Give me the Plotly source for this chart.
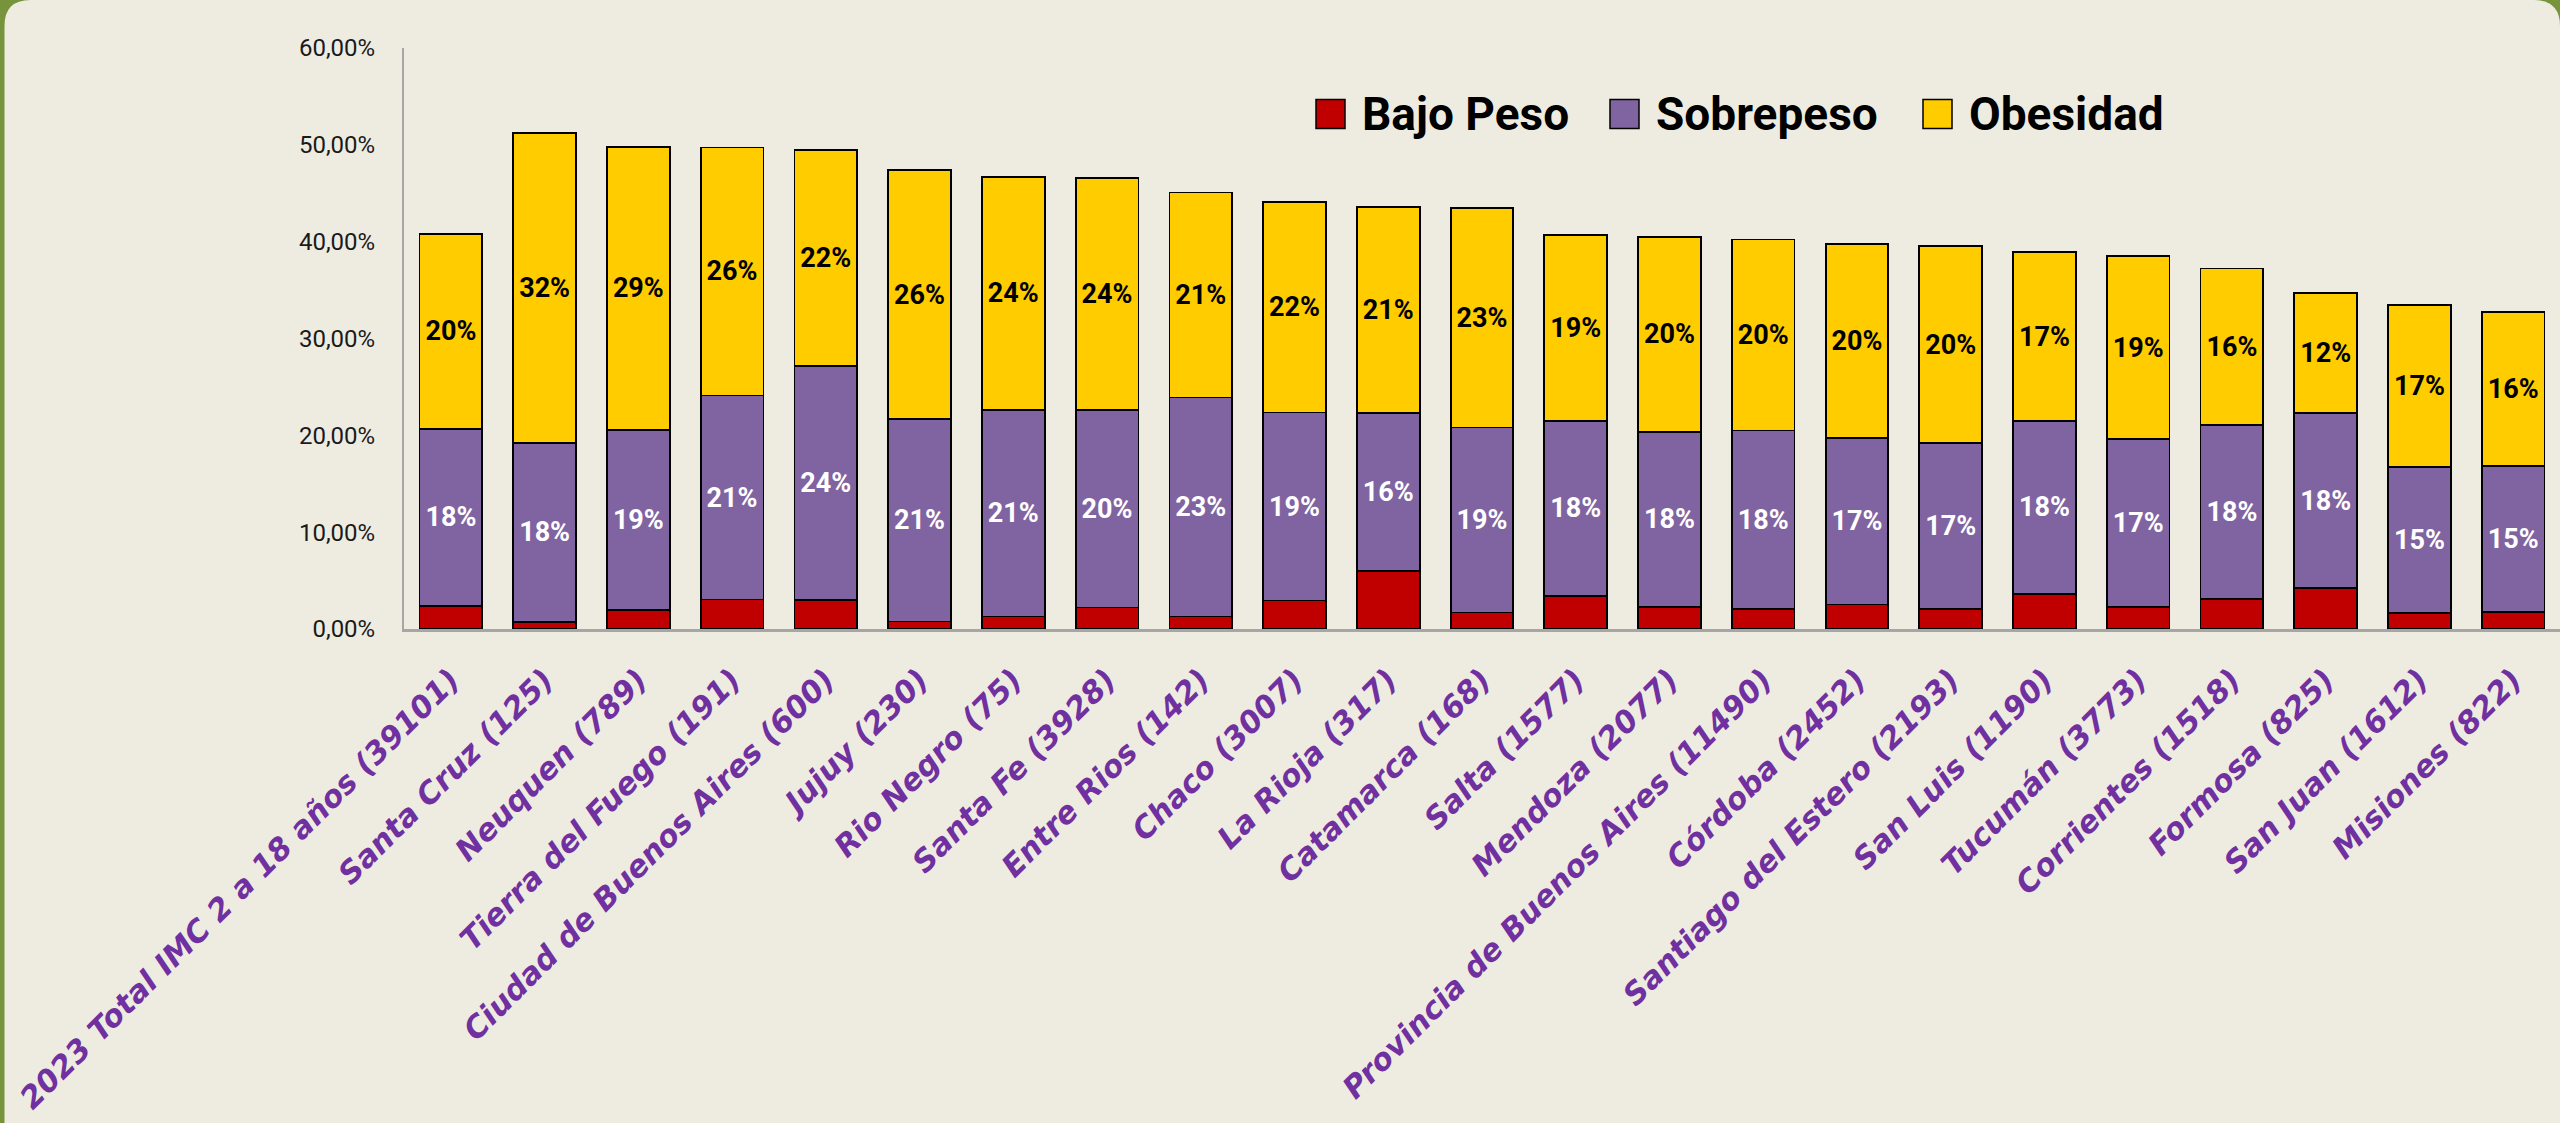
import plotly.graph_objects as go

categories = [
    "2023 Total IMC 2 a 18 años (39101)", "Santa Cruz (125)", "Neuquen (789)",
    "Tierra del Fuego (191)", "Ciudad de Buenos Aires (600)", "Jujuy (230)",
    "Rio Negro (75)", "Santa Fe (3928)", "Entre Rios (142)", "Chaco (3007)",
    "La Rioja (317)", "Catamarca (168)", "Salta (1577)", "Mendoza (2077)",
    "Provincia de Buenos Aires (11490)", "Córdoba (2452)", "Santiago del Estero (2193)",
    "San Luis (1190)", "Tucumán (3773)", "Corrientes (1518)", "Formosa (825)",
    "San Juan (1612)", "Misiones (822)",
]
bajo_peso = [2.39, 0.75, 1.96, 3.05, 2.96, 0.78, 1.30, 2.23, 1.30, 2.95, 5.96, 1.70,
             3.40, 2.27, 2.05, 2.53, 2.05, 3.65, 2.31, 3.09, 4.23, 1.65, 1.75]
sobrepeso = [18.28, 18.45, 18.59, 21.06, 24.19, 20.92, 21.32, 20.39, 22.60, 19.40, 16.37, 19.11,
             18.10, 18.10, 18.45, 17.19, 17.15, 17.85, 17.28, 17.98, 18.05, 15.07, 15.05]
obesidad = [20.11, 32.00, 29.25, 25.62, 22.35, 25.67, 24.08, 23.98, 21.18, 21.73, 21.23, 22.66,
            19.15, 20.10, 19.72, 20.02, 20.32, 17.40, 18.89, 16.15, 12.42, 16.73, 15.90]
y_ticks = [0, 10, 20, 30, 40, 50, 60]
y_tick_labels = ["0,00%", "10,00%", "20,00%", "30,00%", "40,00%", "50,00%", "60,00%"]

series_names = ["Bajo Peso", "Sobrepeso", "Obesidad"]
colors = ["#C00000", "#8064A2", "#FFCC00"]
label_colors = [None, "#FFFFFF", "#000000"]

W, H = 2560, 1123
ML, MR, MT, MB = 404, 0, 48, 494
PW = W - ML - MR
PH = H - MT - MB


def px(x):
    return (x - ML) / PW


def py(y):
    return (H - MB - y) / PH


fig = go.Figure()
for name, vals, col, lcol in zip(series_names, [bajo_peso, sobrepeso, obesidad], colors, label_colors):
    kw = {}
    if lcol:
        kw = dict(texttemplate="<b>%{y:.0f}%</b>", textposition="inside",
                  insidetextanchor="middle", textangle=0,
                  textfont=dict(family="Roboto", size=27, color=lcol))
    fig.add_trace(go.Bar(
        x=categories, y=vals, name=name,
        marker=dict(color=col, line=dict(color="#000000", width=1.8)),
        hoverinfo="skip", **kw))

# background panel with rounded corners
xl, xr = px(4.5), px(2560)
yt, yb = py(0), py(1140)
rx = 26 / PW
ry = 26 / PH
path = (f"M {xl},{yb} L {xl},{yt - ry} Q {xl},{yt} {xl + rx},{yt} "
        f"L {xr - rx},{yt} Q {xr},{yt} {xr},{yt - ry} L {xr},{yb} Z")
shapes = [dict(type="path", path=path, xref="paper", yref="paper",
               fillcolor="#EEECE1", line=dict(width=0), layer="below")]

# custom legend
leg_sq_x = [1316, 1610, 1923]
leg_txt_x = [1360, 1654, 1967]
leg_y = 114
annotations = []
for name, col, sx, tx in zip(series_names, colors, leg_sq_x, leg_txt_x):
    shapes.append(dict(type="rect", xref="paper", yref="paper",
                       x0=px(sx), x1=px(sx + 29), y0=py(leg_y + 14.5), y1=py(leg_y - 14.5),
                       fillcolor=col, line=dict(color="#000000", width=1.5)))
    annotations.append(dict(text=f"<b>{name}</b>", xref="paper", yref="paper",
                            x=px(tx), y=py(leg_y), xanchor="left", yanchor="middle",
                            showarrow=False,
                            font=dict(family="Roboto", size=46, color="#000000")))

fig.update_layout(
    width=W, height=H,
    margin=dict(l=ML, r=MR, t=MT, b=MB),
    paper_bgcolor="#77933C",
    plot_bgcolor="rgba(0,0,0,0)",
    barmode="stack",
    bargap=0.331,
    showlegend=False,
    shapes=shapes,
    annotations=annotations,
    xaxis=dict(
        showline=True, linecolor="#A6A6A6", linewidth=2.5,
        tickangle=-45, ticks="", automargin=False,
        tickfont=dict(family="DejaVu Sans", size=30.5, color="#7030A0",
                      weight="bold", style="italic"),
        ticklabelstandoff=18,
    ),
    yaxis=dict(
        range=[0, 60], tickvals=y_ticks, ticktext=y_tick_labels,
        showgrid=False, zeroline=False,
        showline=True, linecolor="#A6A6A6", linewidth=2,
        ticks="", ticklabelstandoff=22, automargin=False,
        tickfont=dict(family="Roboto", size=24, color="#1A1A1A"),
    ),
)

fig.write_html(
    "out.html",
    config={"displayModeBar": False},
    post_script="document.body.style.margin='0';document.body.style.overflow='hidden';",
)
